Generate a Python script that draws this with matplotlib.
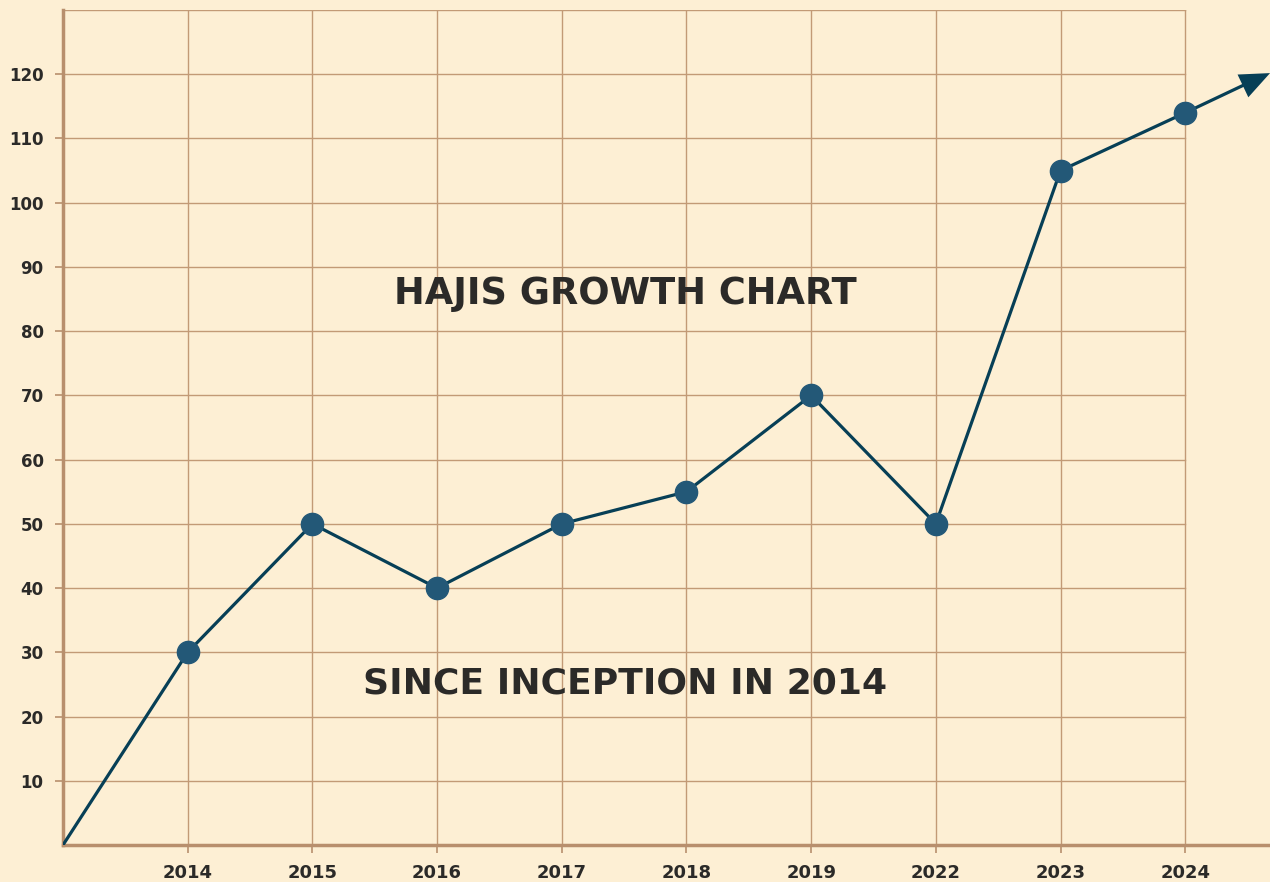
import numpy as np
import matplotlib.pyplot as plt
from matplotlib.markers import MarkerStyle

# ---------- data ----------
years = ['2014', '2015', '2016', '2017', '2018', '2019', '2022', '2023', '2024']
values = [30, 50, 40, 50, 55, 70, 50, 105, 114]
origin = (0, 0)
trend_tip = (9.675, 120.2)
y_ticks = [10, 20, 30, 40, 50, 60, 70, 80, 90, 100, 110, 120]
y_top = 130

bg = '#fdefd4'
grid_c = '#c29a76'
spine_c = '#b88f6d'
line_c = '#073f56'
marker_c = '#235877'
text_c = '#2b2a28'

plt.rcParams['font.family'] = ['DejaVu Sans']

fig = plt.figure(figsize=(12.7, 8.82), dpi=100)
fig.patch.set_facecolor(bg)
ax = fig.add_axes([63 / 1270, 37 / 882, 1 - 63 / 1270, (845 - 10) / 882])
ax.set_facecolor(bg)

xs = list(range(1, len(years) + 1))
ax.set_xlim(0, 9.68)
ax.set_ylim(0, y_top)

# ---------- grid box ----------
for y in y_ticks + [y_top]:
    ax.plot([0, xs[-1]], [y, y], color=grid_c, lw=1.0, zorder=1)
for x in xs:
    ax.plot([x, x], [0, y_top], color=grid_c, lw=1.0, zorder=1)

# ---------- series ----------
ax.plot([origin[0]] + xs, [origin[1]] + values, color=line_c, lw=2.3,
        zorder=3, solid_capstyle='round')
ax.plot(xs, values, 'o', color=marker_c, markersize=16, zorder=4)

# trend arrow: segment + triangle head oriented in screen space
p0 = ax.transData.transform((xs[-1], values[-1]))
p1 = ax.transData.transform(trend_tip)
d = p1 - p0
theta = np.degrees(np.arctan2(d[1], d[0]))
head_px = 30
u = d / np.hypot(*d)
head_center = ax.transData.inverted().transform(p1 - u * head_px / 2)
ax.plot([xs[-1], head_center[0]], [values[-1], head_center[1]],
        color=line_c, lw=2.3, zorder=3, clip_on=False)
head = MarkerStyle([(-0.5, -0.42), (0.5, 0), (-0.5, 0.42), (-0.5, -0.42)]).rotated(deg=theta)
ax.plot([head_center[0]], [head_center[1]], marker=head,
        markersize=head_px * 72 / fig.dpi, color=line_c, markeredgewidth=0,
        linestyle='none', zorder=3, clip_on=False)

# ---------- text ----------
ax.text(4.51, 85.9, 'HAJIS GROWTH CHART', ha='center', va='center',
        fontsize=26.5, fontweight='bold', color=text_c)
ax.text(4.51, 25.2, 'SINCE INCEPTION IN 2014', ha='center', va='center',
        fontsize=26, fontweight='bold', color=text_c)

# ---------- axes styling ----------
for s in ['top', 'right']:
    ax.spines[s].set_visible(False)
for s in ['left', 'bottom']:
    ax.spines[s].set_color(spine_c)
    ax.spines[s].set_linewidth(2.5)

ax.set_xticks(xs)
ax.set_xticklabels(years)
ax.set_yticks(y_ticks)
ax.tick_params(axis='both', colors=spine_c, length=6, width=1.2,
               labelcolor=text_c)
ax.tick_params(axis='x', pad=8, labelsize=13)
ax.tick_params(axis='y', pad=8, labelsize=12)
for lab in ax.get_xticklabels() + ax.get_yticklabels():
    lab.set_fontweight('bold')

fig.savefig('out.png', dpi=100, facecolor=bg)
